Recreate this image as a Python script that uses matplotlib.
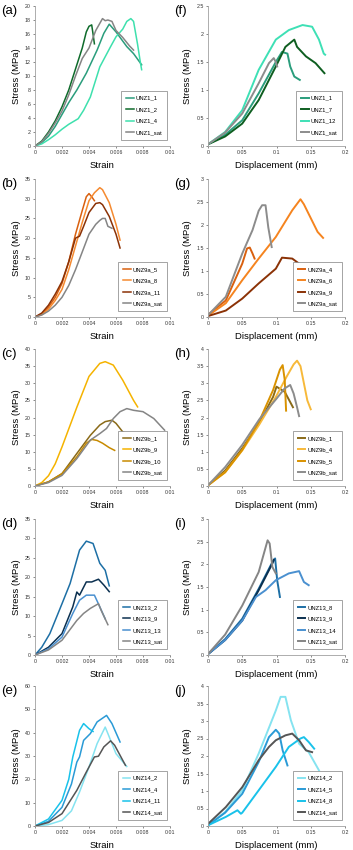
import matplotlib
matplotlib.use("Agg")
import matplotlib.pyplot as plt
from matplotlib.ticker import FuncFormatter

plt.rcParams['font.family'] = ['Liberation Sans', 'DejaVu Sans']

# ---------------- (a) UNZ1 stress-strain ----------------
a_1_x = [0, 0.0005, 0.001, 0.0015, 0.002, 0.0025, 0.0031, 0.0038, 0.0046, 0.0051, 0.0055, 0.006, 0.0068, 0.0073, 0.0079]
a_1_y = [0, 0.5, 1.4, 2.8, 4.5, 6.2, 8, 10.4, 13.7, 16.1, 17.4, 16.3, 14.2, 13.2, 11.6]
a_2_x = [0, 0.0005, 0.001, 0.0015, 0.002, 0.0025, 0.003, 0.0035, 0.0038, 0.004, 0.0042, 0.0043, 0.0044]
a_2_y = [0, 0.7, 2, 3.6, 5.6, 8, 11, 14, 16.3, 17.1, 17.3, 16, 14.6]
a_4_x = [0, 0.0005, 0.001, 0.0015, 0.002, 0.0025, 0.0032, 0.0036, 0.0041, 0.0048, 0.0056, 0.006, 0.0065, 0.0068, 0.0071, 0.0073, 0.0076, 0.0078, 0.0079]
a_4_y = [0, 0.3, 0.9, 1.6, 2.4, 3.1, 3.9, 5.1, 7, 11.3, 14.2, 15.6, 16.7, 17.8, 18.2, 17.8, 14.5, 12, 10.9]
a_s_x = [0, 0.0005, 0.001, 0.0015, 0.002, 0.0025, 0.003, 0.0035, 0.004, 0.0045, 0.005, 0.0052, 0.0054, 0.0057, 0.006, 0.0065, 0.007, 0.0073]
a_s_y = [0, 0.6, 1.8, 3.3, 5, 7.3, 10, 12.5, 14, 16.5, 18.2, 17.9, 18, 17.8, 16.5, 15.5, 14.3, 13.7]
a_labels = ["UNZ1_1", "UNZ1_2", "UNZ1_4", "UNZ1_sat"]

# ---------------- (b) UNZ9a stress-strain ----------------
b_5_x = [0, 0.0005, 0.001, 0.0015, 0.002, 0.0025, 0.003, 0.0035, 0.0038, 0.004, 0.0042, 0.0044]
b_5_y = [0, 0.8, 2.5, 5, 8.5, 14, 21, 27, 30.5, 31.3, 30.5, 29.5]
b_8_x = [0, 0.0005, 0.001, 0.0015, 0.002, 0.0025, 0.003, 0.0035, 0.004, 0.0044, 0.0048, 0.005, 0.0055, 0.006, 0.0063]
b_8_y = [0, 0.6, 2, 4.2, 7, 12, 18, 24, 29.5, 31.5, 32.8, 32.3, 29, 23.5, 19.5]
b_11_x = [0, 0.0005, 0.001, 0.0015, 0.002, 0.0025, 0.003, 0.0033, 0.0036, 0.004, 0.0045, 0.0048, 0.005, 0.0055, 0.006, 0.0063]
b_11_y = [0, 1, 3, 5.8, 9, 14, 20, 20.5, 23, 26.5, 28.8, 29, 28.5, 25.5, 21, 17.5]
b_s_x = [0, 0.0005, 0.001, 0.0015, 0.002, 0.0025, 0.003, 0.0035, 0.004, 0.0045, 0.0048, 0.005, 0.0052, 0.0054, 0.0057]
b_s_y = [0, 0.5, 1.5, 3, 5, 8, 12, 16.5, 21, 23.5, 24.5, 25, 25, 23, 22.5]
b_labels = ["UNZ9a_5", "UNZ9a_8", "UNZ9a_11", "UNZ9a_sat"]

# ---------------- (c) UNZ9b stress-strain ----------------
c_1_x = [0, 0.001, 0.002, 0.0031, 0.0041, 0.0048, 0.0052, 0.0057, 0.006, 0.0065, 0.0075]
c_1_y = [0, 1.2, 3.6, 9.5, 14.8, 17.8, 18.8, 19.2, 18.3, 15.8, 14]
c_9_x = [0, 0.0005, 0.001, 0.0015, 0.002, 0.0031, 0.004, 0.0048, 0.0052, 0.0058, 0.0065, 0.0073, 0.0076]
c_9_y = [0, 1, 3, 6.5, 11.4, 23, 32, 35.8, 36.3, 35.3, 30.9, 25, 23.1]
c_10_x = [0, 0.001, 0.002, 0.0031, 0.0038, 0.0042, 0.0046, 0.005, 0.0055, 0.0059]
c_10_y = [0, 1.2, 3.6, 8.5, 12.5, 13.6, 13.3, 12.5, 11.2, 10.4]
c_s_x = [0, 0.001, 0.002, 0.0031, 0.0041, 0.0048, 0.0053, 0.0058, 0.0063, 0.0068, 0.0073, 0.008, 0.0088, 0.0096]
c_s_y = [0, 1, 3.1, 8, 13.4, 15.3, 16.8, 19.7, 21.7, 22.6, 22.1, 21.7, 19.7, 16.3]
c_labels = ["UNZ9b_1", "UNZ9b_9", "UNZ9b_10", "UNZ9b_sat"]

# ---------------- (d) UNZ13 stress-strain ----------------
d_2_x = [0, 0.0005, 0.0011, 0.002, 0.0026, 0.0033, 0.0038, 0.0043, 0.0048, 0.0052, 0.0055]
d_2_y = [0, 2, 5.5, 13.2, 18.4, 27, 29.3, 28.7, 23.6, 21.8, 17.8]
d_9_x = [0, 0.001, 0.002, 0.0028, 0.0031, 0.0033, 0.0038, 0.0042, 0.0047, 0.0051, 0.0055]
d_9_y = [0, 2, 5.5, 12.4, 16.2, 15.4, 18.8, 18.8, 19.5, 18, 16.3]
d_13_x = [0, 0.001, 0.002, 0.0028, 0.0033, 0.0038, 0.0044, 0.0048, 0.0052]
d_13_y = [0, 1.6, 4.6, 10.7, 14.1, 15.4, 15.4, 12.4, 9.3]
d_s_x = [0, 0.001, 0.002, 0.0031, 0.0036, 0.0041, 0.0047, 0.0049, 0.0054]
d_s_y = [0, 1.3, 3.8, 8.9, 10.7, 12, 13.2, 11.5, 7.8]
d_labels = ["UNZ13_2", "UNZ13_9", "UNZ13_13", "UNZ13_sat"]

# ---------------- (e) UNZ14 stress-strain ----------------
e_2_x = [0, 0.001, 0.002, 0.0027, 0.0033, 0.004, 0.0046, 0.0052, 0.0054, 0.006, 0.0068]
e_2_y = [0, 0.6, 2.4, 6.5, 14.6, 25.3, 35.3, 42.4, 39.6, 31, 25.5]
e_4_x = [0, 0.001, 0.002, 0.0027, 0.0031, 0.0033, 0.0036, 0.0041, 0.0046, 0.0053, 0.0057, 0.0063]
e_4_y = [0, 2, 8, 18, 27.4, 29.6, 36.7, 39.6, 44.6, 47.4, 43.9, 36]
e_11_x = [0, 0.001, 0.002, 0.0025, 0.0028, 0.0033, 0.0036, 0.004, 0.0043]
e_11_y = [0, 3, 11, 20, 29.6, 41, 43.9, 41.7, 40.5]
e_s_x = [0, 0.001, 0.002, 0.0031, 0.0038, 0.0044, 0.0047, 0.0051, 0.0056, 0.0059, 0.0067]
e_s_y = [0, 1.5, 5.3, 15.3, 23.1, 29.6, 29.9, 33.9, 36.5, 34.6, 26]
e_labels = ["UNZ14_2", "UNZ14_4", "UNZ14_11", "UNZ14_sat"]

# ---------------- (f) UNZ1 stress-displacement ----------------
f_1_x = [0, 0.025, 0.05, 0.074, 0.099, 0.108, 0.116, 0.12, 0.126, 0.134]
f_1_y = [0.03, 0.2, 0.46, 0.94, 1.5, 1.68, 1.65, 1.42, 1.24, 1.18]
f_7_x = [0, 0.025, 0.05, 0.074, 0.099, 0.113, 0.126, 0.13, 0.143, 0.157, 0.17]
f_7_y = [0.03, 0.17, 0.4, 0.82, 1.42, 1.77, 1.9, 1.77, 1.6, 1.48, 1.3]
f_12_x = [0, 0.025, 0.05, 0.074, 0.099, 0.118, 0.138, 0.152, 0.162, 0.169, 0.171]
f_12_y = [0.03, 0.25, 0.64, 1.36, 1.9, 2.07, 2.16, 2.13, 1.9, 1.65, 1.63]
f_s_x = [0, 0.025, 0.05, 0.074, 0.089, 0.096, 0.099, 0.101]
f_s_y = [0.03, 0.24, 0.58, 1.12, 1.48, 1.57, 1.5, 1.42]
f_labels = ["UNZ1_1", "UNZ1_7", "UNZ1_12", "UNZ1_sat"]

# ---------------- (g) UNZ9a stress-displacement ----------------
g_4_x = [0, 0.026, 0.05, 0.057, 0.061, 0.065, 0.068]
g_4_y = [0.05, 0.36, 1.16, 1.49, 1.51, 1.38, 1.27]
g_6_x = [0, 0.026, 0.05, 0.074, 0.099, 0.123, 0.135, 0.14, 0.15, 0.16, 0.168]
g_6_y = [0.03, 0.3, 0.8, 1.27, 1.74, 2.32, 2.56, 2.45, 2.15, 1.85, 1.72]
g_9_x = [0, 0.026, 0.05, 0.074, 0.099, 0.108, 0.123, 0.133, 0.135]
g_9_y = [0.02, 0.14, 0.4, 0.73, 1.05, 1.29, 1.27, 1.16, 1.1]
g_s_x = [0, 0.026, 0.05, 0.065, 0.074, 0.079, 0.084, 0.088, 0.093]
g_s_y = [0.04, 0.44, 1.38, 1.89, 2.31, 2.43, 2.43, 1.95, 1.52]
g_labels = ["UNZ9a_4", "UNZ9a_6", "UNZ9a_9", "UNZ9a_sat"]

# ---------------- (h) UNZ9b stress-displacement ----------------
h_1_x = [0, 0.025, 0.05, 0.075, 0.095, 0.1, 0.104, 0.112, 0.124]
h_1_y = [0.02, 0.45, 1.1, 1.85, 2.6, 2.9, 2.85, 2.75, 2.3]
h_4_x = [0, 0.025, 0.05, 0.075, 0.099, 0.115, 0.125, 0.13, 0.135, 0.14, 0.145, 0.15]
h_4_y = [0.02, 0.4, 1.04, 1.8, 2.6, 3.2, 3.55, 3.66, 3.5, 3.0, 2.5, 2.24]
h_5_x = [0, 0.025, 0.05, 0.075, 0.095, 0.105, 0.109, 0.112, 0.114]
h_5_y = [0.02, 0.4, 1.05, 1.9, 2.8, 3.4, 3.53, 3.1, 2.2]
h_s_x = [0, 0.025, 0.05, 0.075, 0.1, 0.112, 0.12, 0.125, 0.13, 0.133]
h_s_y = [0.02, 0.55, 1.2, 1.95, 2.55, 2.85, 2.95, 2.7, 2.3, 2.04]
h_labels = ["UNZ9b_1", "UNZ9b_4", "UNZ9b_5", "UNZ9b_sat"]

# ---------------- (i) UNZ13 stress-displacement ----------------
i_8_x = [0, 0.025, 0.05, 0.074, 0.094, 0.098, 0.101, 0.105]
i_8_y = [0.02, 0.35, 0.8, 1.46, 2.05, 2.13, 1.65, 1.28]
i_9_x = [0, 0.025, 0.05, 0.074, 0.094, 0.096]
i_9_y = [0.02, 0.33, 0.76, 1.43, 2.02, 2.1]
i_14_x = [0, 0.025, 0.05, 0.07, 0.084, 0.099, 0.118, 0.133, 0.14, 0.147]
i_14_y = [0.02, 0.33, 0.76, 1.28, 1.43, 1.65, 1.8, 1.85, 1.61, 1.54]
i_s_x = [0, 0.025, 0.05, 0.074, 0.087, 0.09, 0.094, 0.099]
i_s_y = [0.02, 0.45, 1.09, 1.83, 2.53, 2.46, 1.94, 1.8]
i_labels = ["UNZ13_8", "UNZ13_9", "UNZ13_14", "UNZ13_sat"]

# ---------------- (j) UNZ14 stress-displacement ----------------
j_2_x = [0, 0.025, 0.05, 0.074, 0.099, 0.106, 0.113, 0.121, 0.133, 0.147, 0.162]
j_2_y = [0.02, 0.4, 1.02, 2.07, 3.3, 3.69, 3.69, 3.02, 2.35, 2.11, 1.59]
j_5_x = [0, 0.025, 0.05, 0.074, 0.089, 0.099, 0.104, 0.109, 0.116]
j_5_y = [0.02, 0.38, 0.92, 1.83, 2.54, 2.75, 2.64, 2.16, 1.73]
j_8_x = [0, 0.026, 0.043, 0.048, 0.05, 0.074, 0.099, 0.118, 0.135, 0.14, 0.147, 0.155]
j_8_y = [0.02, 0.26, 0.45, 0.35, 0.38, 1.02, 1.69, 2.26, 2.5, 2.54, 2.4, 2.21]
j_s_x = [0, 0.026, 0.05, 0.074, 0.089, 0.099, 0.113, 0.123, 0.133, 0.143, 0.152]
j_s_y = [0.06, 0.54, 1.11, 1.88, 2.26, 2.45, 2.59, 2.64, 2.45, 2.16, 2.11]
j_labels = ["UNZ14_2", "UNZ14_5", "UNZ14_8", "UNZ14_sat"]

green = ['#2a9d7c', '#0e6b2b', '#3ee0ad', '#858585']
orange = ['#d9600f', '#f58a30', '#8b3206', '#858585']
gold = ['#8a6a18', '#f5b300', '#c78a00', '#858585']
blue = ['#1d6fa5', '#0b3050', '#4a90d0', '#858585']
cyan = ['#85e3f0', '#2a9ad6', '#19c2ea', '#555555']

W, H = 353, 850
fig = plt.figure(figsize=(W / 100, H / 100), dpi=100)


def fmt(v, pos):
    return '%g' % round(v, 6)


def panel(left, right, top, bottom, tag, series, labels, colors,
          xmax, xstep, ymax, ystep, xlabel, lw):
    ax = fig.add_axes([left / W, 1 - bottom / H, (right - left) / W, (bottom - top) / H])
    for (xs, ys), lab, c in zip(series, labels, colors):
        ax.plot(xs, ys, color=c, lw=lw, label=lab, solid_joinstyle='round')
    ax.set_xlim(0, xmax)
    ax.set_ylim(0, ymax)
    nx = int(round(xmax / xstep))
    ny = int(round(ymax / ystep))
    ax.set_xticks([k * xstep for k in range(nx + 1)])
    ax.set_yticks([k * ystep for k in range(ny + 1)])
    ax.xaxis.set_major_formatter(FuncFormatter(fmt))
    ax.yaxis.set_major_formatter(FuncFormatter(fmt))
    ax.tick_params(labelsize=3.8, length=1.5, width=0.4, pad=1.5, colors='#333333')
    for s in ['top', 'right']:
        ax.spines[s].set_visible(False)
    for s in ['left', 'bottom']:
        ax.spines[s].set_color('#a0a0a0')
        ax.spines[s].set_linewidth(0.6)
    ax.set_xlabel(xlabel, fontsize=6.8, labelpad=4)
    ax.set_ylabel('Stress (MPa)', fontsize=6.8, labelpad=3)
    leg = ax.legend(loc='lower right', bbox_to_anchor=(0.985, 0.035), fontsize=4.2,
                    handlelength=1.3, labelspacing=1.1, borderpad=0.8,
                    handletextpad=0.3, borderaxespad=0.2, fancybox=False, framealpha=1)
    leg.get_frame().set_edgecolor('#808080')
    leg.get_frame().set_linewidth(0.5)
    fig.text((left - 34) / W, 1 - (top + 5) / H, tag, fontsize=9.5, va='center', ha='left')
    return ax


rows = [(6, 146), (179, 317), (349, 486), (519, 655), (686, 826)]

panel(35, 170, *rows[0], '(a)', [(a_1_x, a_1_y), (a_2_x, a_2_y), (a_4_x, a_4_y), (a_s_x, a_s_y)],
      a_labels, green, 0.01, 0.002, 20, 2, 'Strain', 1.1)
panel(35, 170, *rows[1], '(b)', [(b_5_x, b_5_y), (b_8_x, b_8_y), (b_11_x, b_11_y), (b_s_x, b_s_y)],
      b_labels, orange, 0.01, 0.002, 35, 5, 'Strain', 1.1)
panel(35, 170, *rows[2], '(c)', [(c_1_x, c_1_y), (c_9_x, c_9_y), (c_10_x, c_10_y), (c_s_x, c_s_y)],
      c_labels, gold, 0.01, 0.002, 40, 5, 'Strain', 1.1)
panel(35, 170, *rows[3], '(d)', [(d_2_x, d_2_y), (d_9_x, d_9_y), (d_13_x, d_13_y), (d_s_x, d_s_y)],
      d_labels, blue, 0.01, 0.002, 35, 5, 'Strain', 1.1)
panel(35, 170, *rows[4], '(e)', [(e_2_x, e_2_y), (e_4_x, e_4_y), (e_11_x, e_11_y), (e_s_x, e_s_y)],
      e_labels, cyan, 0.01, 0.002, 60, 10, 'Strain', 1.1)

green_r = ['#2a9d7c', '#0e5e20', '#3ee0b5', '#8c8c8c']
orange_r = ['#d9600f', '#f5841f', '#8b3206', '#8c8c8c']
gold_r = ['#8a6a18', '#f7b93a', '#d99200', '#8c8c8c']

panel(208, 345, *rows[0], '(f)', [(f_1_x, f_1_y), (f_7_x, f_7_y), (f_12_x, f_12_y), (f_s_x, f_s_y)],
      f_labels, green_r, 0.2, 0.05, 2.5, 0.5, 'Displacement (mm)', 1.4)
panel(208, 345, *rows[1], '(g)', [(g_4_x, g_4_y), (g_6_x, g_6_y), (g_9_x, g_9_y), (g_s_x, g_s_y)],
      g_labels, orange_r, 0.2, 0.05, 3, 0.5, 'Displacement (mm)', 1.4)
panel(208, 345, *rows[2], '(h)', [(h_1_x, h_1_y), (h_4_x, h_4_y), (h_5_x, h_5_y), (h_s_x, h_s_y)],
      h_labels, gold_r, 0.2, 0.05, 4, 0.5, 'Displacement (mm)', 1.4)
panel(208, 345, *rows[3], '(i)', [(i_8_x, i_8_y), (i_9_x, i_9_y), (i_14_x, i_14_y), (i_s_x, i_s_y)],
      i_labels, blue, 0.2, 0.05, 3, 0.5, 'Displacement (mm)', 1.4)
panel(208, 345, *rows[4], '(j)', [(j_2_x, j_2_y), (j_5_x, j_5_y), (j_8_x, j_8_y), (j_s_x, j_s_y)],
      j_labels, cyan, 0.2, 0.05, 4, 0.5, 'Displacement (mm)', 1.4)

fig.savefig('out.png', dpi=100)
